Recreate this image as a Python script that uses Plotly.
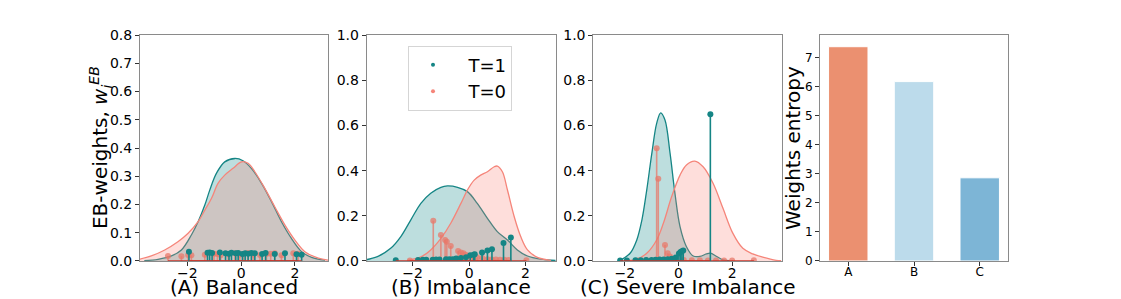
import plotly.graph_objects as go

# ---------------- data ----------------
# Panel A (Balanced): KDE curves
A_t1_kx = [-3.6, -3.09, -2.59, -2.22, -1.85, -1.60, -1.35, -1.17, -0.92, -0.61, -0.23, 0.07, 0.38, 0.76, 1.13, 1.50, 1.87, 2.25, 2.62, 3.12]
A_t1_ky = [0.001, 0.006, 0.018, 0.039, 0.092, 0.139, 0.198, 0.25, 0.31, 0.351, 0.363, 0.355, 0.328, 0.275, 0.21, 0.139, 0.08, 0.033, 0.013, 0.003]
A_t0_kx = [-3.84, -3.34, -2.84, -2.35, -1.97, -1.60, -1.35, -1.10, -0.86, -0.61, -0.30, 0.01, 0.26, 0.51, 0.88, 1.25, 1.63, 2.0, 2.37, 2.87, 3.23]
A_t0_ky = [0.005, 0.018, 0.039, 0.068, 0.098, 0.139, 0.18, 0.222, 0.275, 0.304, 0.328, 0.351, 0.346, 0.316, 0.257, 0.192, 0.127, 0.074, 0.033, 0.01, 0.003]
# Panel A weights
A_t1_x = [-1.94, -1.25, -1.17, -1.08, -0.79, -0.58, -0.45, -0.36, -0.2, -0.11, 0.05, 0.15, 0.26, 0.38, 0.51, 0.78, 0.91, 1.25, 1.63, 2.06, 2.25]
A_t1_w = [0.033, 0.029, 0.03, 0.028, 0.03, 0.027, 0.026, 0.029, 0.027, 0.028, 0.025, 0.027, 0.026, 0.028, 0.027, 0.025, 0.028, 0.025, 0.027, 0.024, 0.022]
A_t0_x = [-2.72, -2.22, -1.97, -1.85, -1.35, -1.01, -0.88, -0.76, -0.48, -0.23, -0.05, 0.07, 0.26, 0.45, 0.70, 0.94, 1.10, 1.25, 1.50, 1.94, 2.12]
A_t0_w = [0.018, 0.017, 0.021, 0.02, 0.022, 0.026, 0.025, 0.02, 0.024, 0.027, 0.022, 0.025, 0.028, 0.023, 0.021, 0.025, 0.026, 0.027, 0.02, 0.027, 0.026]

# Panel B (Imbalance)
B_t1_kx = [-3.72, -3.25, -2.78, -2.42, -2.07, -1.71, -1.36, -1.0, -0.77, -0.41, -0.06, 0.29, 0.65, 1.0, 1.36, 1.71, 2.07, 2.54, 3.07]
B_t1_ky = [0.004, 0.019, 0.056, 0.108, 0.181, 0.255, 0.30, 0.326, 0.332, 0.326, 0.307, 0.255, 0.189, 0.13, 0.093, 0.049, 0.022, 0.008, 0.002]
B_t0_kx = [-2.19, -1.71, -1.36, -1.0, -0.65, -0.29, -0.06, 0.18, 0.41, 0.65, 0.89, 1.0, 1.18, 1.36, 1.60, 1.83, 2.07, 2.42, 2.90]
B_t0_ky = [0.003, 0.018, 0.049, 0.1, 0.167, 0.255, 0.314, 0.358, 0.38, 0.395, 0.417, 0.42, 0.395, 0.314, 0.196, 0.108, 0.049, 0.016, 0.003]
B_t1_x = [-2.6, -1.81, -1.64, -1.52, -1.29, -1.17, -1.05, -0.82, -0.7, -0.58, -0.46, -0.29, -0.11, 0.04, 0.16, 0.2, 0.46, 0.65, 0.81, 1.22, 1.48]
B_t1_w = [0.003, 0.004, 0.005, 0.005, 0.005, 0.006, 0.006, 0.008, 0.008, 0.008, 0.011, 0.013, 0.016, 0.025, 0.028, 0.03, 0.037, 0.046, 0.052, 0.079, 0.104]
B_t0_x = [-2.1, -1.27, -1.0, -0.85, -0.79, -0.65, -0.39, -0.29, -0.2, -0.12, 0.0, 0.11, 0.29, 0.47, 0.65, 0.8, 0.95, 1.1, 1.25, 1.4, 2.03]
B_t0_w = [0.002, 0.178, 0.115, 0.093, 0.085, 0.066, 0.044, 0.038, 0.034, 0.028, 0.022, 0.019, 0.015, 0.012, 0.008, 0.007, 0.006, 0.005, 0.005, 0.004, 0.003]

# Panel C (Severe Imbalance)
C_t1_kx = [-2.17, -1.8, -1.55, -1.36, -1.18, -0.99, -0.81, -0.66, -0.5, -0.31, -0.13, 0.06, 0.30, 0.55, 0.8, 1.04, 1.19, 1.41, 1.66, 1.91]
C_t1_ky = [0.003, 0.034, 0.093, 0.181, 0.314, 0.476, 0.609, 0.656, 0.624, 0.476, 0.3, 0.152, 0.063, 0.022, 0.02, 0.031, 0.035, 0.021, 0.005, 0.001]
C_t0_kx = [-1.92, -1.55, -1.18, -0.81, -0.56, -0.25, 0.06, 0.30, 0.61, 0.92, 1.29, 1.66, 2.03, 2.4, 2.77, 3.14, 3.64, 3.83]
C_t0_ky = [0.001, 0.008, 0.034, 0.093, 0.167, 0.285, 0.38, 0.425, 0.442, 0.417, 0.344, 0.233, 0.122, 0.056, 0.031, 0.017, 0.003, 0.001]
C_t1_x = [-2.17, -1.92, -1.6, -1.4, -1.2, -1.0, -0.85, -0.7, -0.55, -0.4, -0.25, -0.1, 0.02, 0.08, 0.13, 0.18, 1.19]
C_t1_w = [0.002, 0.002, 0.003, 0.003, 0.004, 0.004, 0.005, 0.006, 0.007, 0.008, 0.01, 0.015, 0.033, 0.04, 0.043, 0.046, 0.65]
C_t0_x = [-1.5, -1.2, -0.81, -0.75, -0.5, -0.4, -0.31, -0.1, 0.2, 0.5, 0.8, 1.1, 1.4, 1.7, 2.0, 2.81]
C_t0_w = [0.002, 0.003, 0.499, 0.364, 0.071, 0.034, 0.02, 0.006, 0.004, 0.003, 0.003, 0.002, 0.002, 0.002, 0.002, 0.003]

# Panel D: weights entropy
D_cats = ["A", "B", "C"]
D_vals = [7.37, 6.17, 2.86]
D_colors = ["#eb9070", "#bcdbeb", "#7db5d6"]

legend_labels = ["T=1", "T=0"]
x_titles = ["(A) Balanced", "(B) Imbalance", "(C) Severe Imbalance"]

# ---------------- layout helpers ----------------
W, H = 1121, 299
TEAL = "#158585"
TEAL_FILL = "rgba(0,128,128,0.26)"
SALMON = "#f5857a"
SALMON_FILL = "rgba(250,128,114,0.26)"
STEM_T0 = "rgba(232,120,105,0.75)"
BASE = "#c8352a"
FONT = "DejaVu Sans"

# the page photograph maps figure y to screen y as  screen = 7.9 + 0.947 * fig
def fy(y_screen):
    return (y_screen - 7.9) / 0.947

def px(x):
    return x / W

def py(y_screen):
    return 1 - fy(y_screen) / H

ydom = [py(261), py(35)]
xdoms = [[px(140), px(328)], [px(366.7), px(555.7)], [px(593.3), px(781.5)], [px(820), px(1008)]]
xranges = [[-3.76, 3.23], [-3.63, 3.07], [-3.17, 3.84]]
yranges = [[0, 0.8], [0, 1.0], [0, 1.0]]
ydticks = [0.1, 0.2, 0.2]

fig = go.Figure()

panels = [
    (A_t1_kx, A_t1_ky, A_t0_kx, A_t0_ky, A_t1_x, A_t1_w, A_t0_x, A_t0_w),
    (B_t1_kx, B_t1_ky, B_t0_kx, B_t0_ky, B_t1_x, B_t1_w, B_t0_x, B_t0_w),
    (C_t1_kx, C_t1_ky, C_t0_kx, C_t0_ky, C_t1_x, C_t1_w, C_t0_x, C_t0_w),
]

def stems(xs, ws):
    sx, sy = [], []
    for x, w in zip(xs, ws):
        sx += [x, x, None]
        sy += [0, w, None]
    return sx, sy

for i, (k1x, k1y, k0x, k0y, s1x, s1w, s0x, s0w) in enumerate(panels):
    xa = "x" if i == 0 else f"x{i+1}"
    ya = "y" if i == 0 else f"y{i+1}"
    common = dict(xaxis=xa, yaxis=ya, showlegend=False, hoverinfo="skip")
    fig.add_trace(go.Scatter(x=k1x, y=k1y, mode="lines", line=dict(color=TEAL, width=1.3, shape="spline"),
                             fill="tozeroy", fillcolor=TEAL_FILL, **common))
    fig.add_trace(go.Scatter(x=k0x, y=k0y, mode="lines", line=dict(color=SALMON, width=1.3, shape="spline"),
                             fill="tozeroy", fillcolor=SALMON_FILL, **common))
    # T=0 stems
    sx, sy = stems(s0x, s0w)
    fig.add_trace(go.Scatter(x=sx, y=sy, mode="lines", line=dict(color=STEM_T0, width=1.6), **common))
    fig.add_trace(go.Scatter(x=s0x, y=s0w, mode="markers", marker=dict(color=STEM_T0, size=6), **common))
    fig.add_trace(go.Scatter(x=[min(s0x), max(s0x)], y=[0, 0], mode="lines", line=dict(color=BASE, width=1.2), **common))
    # T=1 stems
    sx, sy = stems(s1x, s1w)
    fig.add_trace(go.Scatter(x=sx, y=sy, mode="lines", line=dict(color=TEAL, width=1.6), **common))
    fig.add_trace(go.Scatter(x=s1x, y=s1w, mode="markers", marker=dict(color=TEAL, size=6), **common))
    fig.add_trace(go.Scatter(x=[min(s1x), max(s1x)], y=[0, 0], mode="lines", line=dict(color=BASE, width=1.2), **common))

# legend entries (drawn in panel B)
NB = "\u00a0\u00a0"
fig.add_trace(go.Scatter(x=[None], y=[None], mode="markers", marker=dict(color=TEAL, size=4),
                         name=NB + legend_labels[0], xaxis="x2", yaxis="y2"))
fig.add_trace(go.Scatter(x=[None], y=[None], mode="markers", marker=dict(color=SALMON, size=4),
                         name=NB + legend_labels[1], xaxis="x2", yaxis="y2"))

# Panel D bars
fig.add_trace(go.Bar(x=D_cats, y=D_vals, marker=dict(color=D_colors, line=dict(color="white", width=1)),
                     width=0.6, xaxis="x4", yaxis="y4", showlegend=False, hoverinfo="skip"))

axis_common = dict(showline=True, mirror=True, linecolor="#8a8a8a", linewidth=1, showgrid=False, zeroline=False,
                   ticks="outside", ticklen=4, tickcolor="#333", tickfont=dict(family=FONT, size=14, color="black"))

layout = dict(
    width=W, height=H, autosize=False, margin=dict(l=0, r=0, t=0, b=0, pad=0),
    paper_bgcolor="white", plot_bgcolor="white",
    font=dict(family=FONT, color="black"),
    showlegend=True,
    legend=dict(x=px(408), y=py(45.5), xanchor="left", yanchor="top", bgcolor="white",
                bordercolor="#d5d5d5", borderwidth=1, font=dict(family=FONT, size=18),
                itemwidth=38, tracegroupgap=0),
)
for i in range(3):
    xk = "xaxis" if i == 0 else f"xaxis{i+1}"
    yk = "yaxis" if i == 0 else f"yaxis{i+1}"
    ya = "y" if i == 0 else f"y{i+1}"
    xa = "x" if i == 0 else f"x{i+1}"
    layout[xk] = dict(domain=xdoms[i], range=xranges[i], anchor=ya, tickvals=[-2, 0, 2],
                      ticklabelstandoff=-5, **axis_common)
    layout[yk] = dict(domain=ydom, range=yranges[i], anchor=xa, dtick=ydticks[i], tick0=0, tickformat=".1f",
                      **axis_common)
d_axis = dict(axis_common)
d_axis["tickfont"] = dict(family=FONT, size=12, color="black")
layout["xaxis4"] = dict(domain=xdoms[3], range=[-0.43, 2.43], anchor="y4", type="category",
                        ticklabelstandoff=-4, **d_axis)
layout["yaxis4"] = dict(domain=ydom, range=[0, 7.77], anchor="x4", dtick=1, tick0=0, **d_axis)

fig.update_layout(**layout)

annotations = []
centers = [234, 461, 687.5]
for c, t in zip(centers, x_titles):
    annotations.append(dict(x=px(c), y=py(287), xref="paper", yref="paper", text=t, showarrow=False,
                            xanchor="center", yanchor="middle", font=dict(family=FONT, size=20, color="black")))
annotations.append(dict(x=px(100), y=py(148), xref="paper", yref="paper", textangle=-90,
                        text="EB-weights, <i>w</i><sub><i>i</i></sub><sup><i>EB</i></sup>", showarrow=False,
                        xanchor="center", yanchor="middle", font=dict(family=FONT, size=20, color="black")))
annotations.append(dict(x=px(793), y=py(148), xref="paper", yref="paper", textangle=-90,
                        text="Weights entropy", showarrow=False,
                        xanchor="center", yanchor="middle", font=dict(family=FONT, size=20, color="black")))
fig.update_layout(annotations=annotations)

post = ("document.body.style.margin='0';document.body.style.padding='0';"
        "document.body.style.overflow='hidden';"
        "var gd=document.getElementById('{plot_id}');"
        "gd.style.width='1121px';gd.style.height='299px';"
        "Plotly.relayout(gd,{width:1121,height:299});")

fig.write_html("out.html",
               config={"displayModeBar": False, "responsive": False},
               default_width="1121px", default_height="299px",
               post_script=post)
